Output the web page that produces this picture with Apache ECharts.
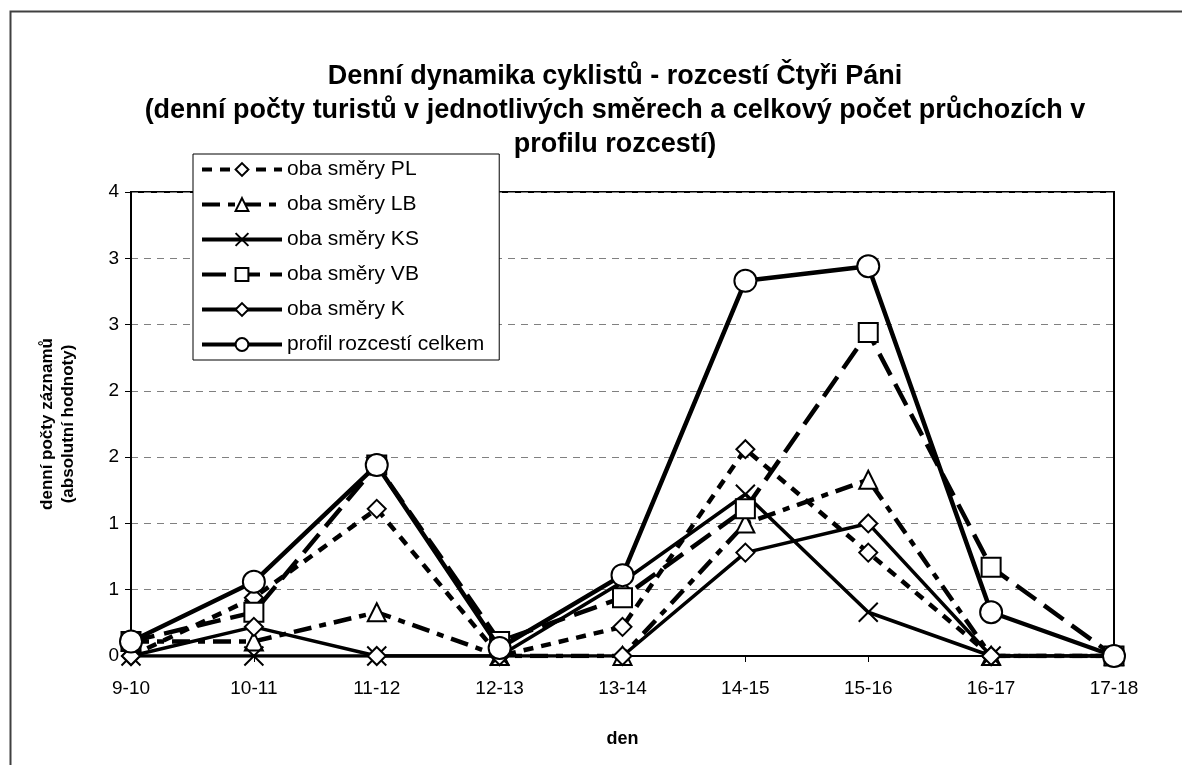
<!DOCTYPE html>
<html>
<head>
<meta charset="utf-8">
<title>Denní dynamika cyklistů</title>
<script src="https://cdn.jsdelivr.net/npm/echarts@6/dist/echarts.min.js"></script>
<style>
  html, body { margin: 0; padding: 0; background: #fff; }
  #chart { width: 1182px; height: 765px; }
</style>
</head>
<body>
<div id="chart"></div>
<script>
// hodiny (x osa)
var categories = ['9-10', '10-11', '11-12', '12-13', '13-14', '14-15', '15-16', '16-17', '17-18'];
var yTicks = [0, 0.5, 1, 1.5, 2, 2.5, 3, 3.5];

// denní počty v jednotlivých směrech
var obaPL = [0, 0.44, 1.11, 0, 0.22, 1.56, 0.78, 0, 0];
var obaLB = [0.11, 0.11, 0.33, 0, 0, 1.0, 1.33, 0, 0];
var obaKS = [0, 0, 0, 0, 0.56, 1.22, 0.33, 0, 0];
var obaVB = [0.11, 0.33, 1.44, 0.11, 0.44, 1.11, 2.44, 0.67, 0];
var obaK = [0, 0.22, 0, 0, 0, 0.78, 1.0, 0, 0];
var celkem = [0.11, 0.56, 1.44, 0.06, 0.61, 2.83, 2.94, 0.33, 0];

var font = 'Arial, "Liberation Sans", sans-serif';
var xSymbol = 'path://M0,0L20,20M20,0L0,20';

function makeLine(name, data, symbol, size, dash, width, z) {
  return {
    name: name,
    type: 'line',
    data: data,
    symbol: symbol,
    symbolSize: size,
    symbolKeepAspect: true,
    z: z,
    lineStyle: { color: '#000', width: width, type: dash, cap: 'butt' },
    itemStyle: { color: '#fff', borderColor: '#000', borderWidth: 2 },
    emphasis: { disabled: true }
  };
}

var chart = echarts.init(document.getElementById('chart'));
chart.setOption({
  animation: false,
  backgroundColor: '#fff',
  textStyle: { fontFamily: font, color: '#000' },
  graphic: [{
    type: 'rect',
    left: 8, top: 9,
    shape: { width: 1200, height: 800 },
    style: { fill: 'none', stroke: '#404040', lineWidth: 2 },
    silent: true
  }],
  title: {
    text: 'Denní dynamika cyklistů - rozcestí Čtyři Páni\n(denní počty turistů v jednotlivých směrech a celkový počet průchozích v\nprofilu rozcestí)',
    left: 610,
    top: 55,
    textAlign: 'center',
    textStyle: { fontFamily: font, fontSize: 27, fontWeight: 'bold', lineHeight: 34, color: '#000' }
  },
  legend: {
    orient: 'vertical',
    left: 193,
    top: 154,
    itemWidth: 80,
    itemHeight: 16,
    itemGap: 14,
    padding: [5, 15, 5, 7],
    backgroundColor: '#fff',
    borderColor: '#000',
    borderWidth: 1,
    lineStyle: { width: 4 },
    textStyle: { fontFamily: font, fontSize: 21, color: '#000' },
    data: ['oba směry PL', 'oba směry LB', 'oba směry KS', 'oba směry VB', 'oba směry K', 'profil rozcestí celkem']
  },
  grid: {
    left: 131, right: 68, top: 192, bottom: 109,
    show: true,
    borderColor: '#000',
    borderWidth: 2,
    backgroundColor: 'transparent'
  },
  xAxis: {
    type: 'category',
    data: categories,
    boundaryGap: false,
    name: 'den',
    nameLocation: 'middle',
    nameGap: 74,
    nameTextStyle: { fontFamily: font, fontSize: 18, fontWeight: 'bold', color: '#000' },
    axisLine: { lineStyle: { color: '#000', width: 2 } },
    axisTick: { alignWithLabel: true, length: 6, lineStyle: { color: '#000', width: 1 } },
    axisLabel: { fontFamily: font, fontSize: 19, color: '#000', margin: 23 },
    splitLine: { show: false }
  },
  yAxis: {
    type: 'value',
    min: yTicks[0],
    max: yTicks[yTicks.length - 1],
    interval: 0.5,
    name: 'denní počty záznamů\n(absolutní hodnoty)',
    nameLocation: 'middle',
    nameGap: 52,
    nameTextStyle: { fontFamily: font, fontSize: 17, fontWeight: 'bold', color: '#000', lineHeight: 21 },
    axisLine: { show: true, lineStyle: { color: '#000', width: 2 } },
    axisTick: { show: true, length: 6, lineStyle: { color: '#000' } },
    axisLabel: {
      fontFamily: font, fontSize: 19, color: '#000', margin: 12,
      formatter: function (v) { return String(Math.round(v)); }
    },
    splitLine: { lineStyle: { color: '#808080', width: 1, type: [7, 6] } }
  },
  series: [
    makeLine('oba směry PL', obaPL, 'diamond', 18, [10, 8], 4.5, 2),
    makeLine('oba směry LB', obaLB, 'triangle', 18, [18, 8, 7, 8], 4.5, 3),
    makeLine('oba směry KS', obaKS, xSymbol, 19, 'solid', 3.5, 4),
    makeLine('oba směry VB', obaVB, 'rect', 19, [24, 10], 4.5, 5),
    makeLine('oba směry K', obaK, 'diamond', 18, 'solid', 3.5, 6),
    makeLine('profil rozcestí celkem', celkem, 'circle', 22, 'solid', 4.5, 7)
  ]
});
</script>
</body>
</html>
